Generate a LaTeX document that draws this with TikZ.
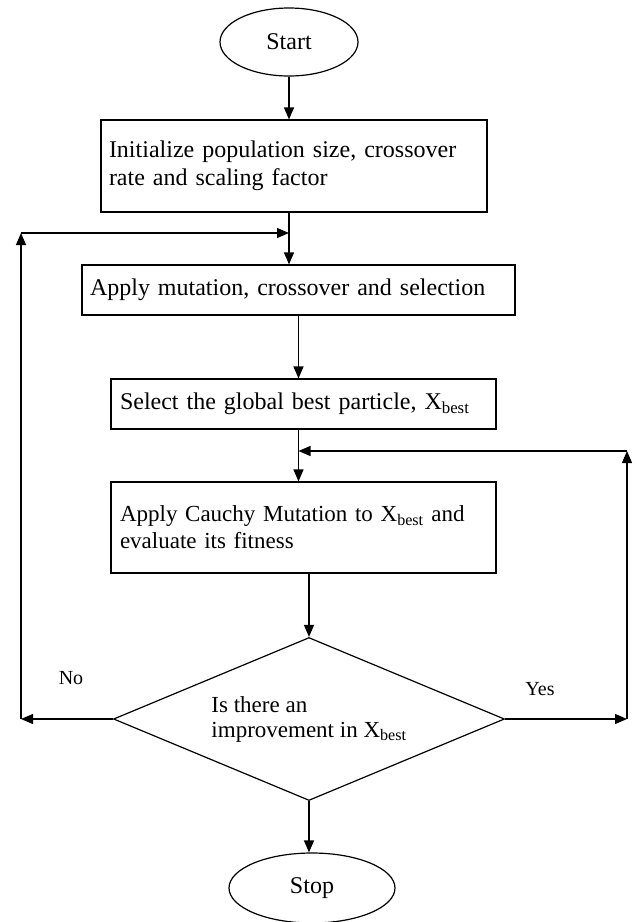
\documentclass[tikz,border=0pt]{standalone}
\usepackage{fontspec}
\setmainfont{Liberation Serif}
\usetikzlibrary{shapes, positioning, arrows.meta, calc}

\tikzset{
  flow/.style={-{Triangle[length=12pt,width=10pt]}},
  procbox/.style={draw, rectangle, align=left, inner xsep=8pt, inner ysep=4pt,
    font=\fontsize{24}{28}\selectfont},
  terminal/.style={draw, ellipse, font=\fontsize{24}{28}\selectfont},
  branch/.style={font=\fontsize{20}{24}\selectfont}
}

\begin{document}
\begin{tikzpicture}[x=1pt, y=-1pt, line width=1.2pt]
      \useasboundingbox (0,0) rectangle (637,922);
      \node[
      terminal,
      minimum width=138pt,
      minimum height=68pt
      ] (start) at (289,42) {Start};
      \node[
      procbox,
      text width=370pt,
      minimum height=92pt
      ] (init) at (294,166) {Initialize population size, crossover\\rate and scaling factor};
      \node[
      procbox,
      text width=417pt,
      minimum height=50pt
      ] (apply) at (298.5,290) {Apply mutation, crossover and selection};
      \node[
      procbox,
      inner xsep=9pt,
      text width=367pt,
      minimum height=50pt
      ] (select) at (303.5,404) {Select the global best particle, X\textsubscript{best}};
      \node[
      procbox,
      inner xsep=9pt,
      text width=367pt,
      minimum height=91pt,
      font=\fontsize{23}{27}\selectfont
      ] (cauchy) at (303.5,527.5) {Apply Cauchy Mutation to X\textsubscript{best} and\\evaluate its fitness};
      \node[
      draw,
      diamond,
      aspect=2.4,
      inner sep=2pt,
      minimum width=391pt,
      minimum height=163pt,
      align=left,
      font=\fontsize{23}{25}\selectfont
      ] (improve) at (309,719) {Is there an\\improvement in X\textsubscript{best}};
      \node[
      terminal,
      minimum width=166pt,
      minimum height=70pt
      ] (stop) at (312,888) {Stop};
      \node[branch] (nolabel) at (71,678) {No};
      \node[branch] (yeslabel) at (540,689) {Yes};
      \coordinate (nocorner) at (21,719);
      \coordinate (noend) at (21,233);
      \coordinate (yescorner) at (627,719);
      \coordinate (yesend) at (627,451);
      \draw[flow] (start.south) -- (init.north -| start.south);
      \draw[flow] (init.south -| start.south) -- (apply.north -| start.south);
      \draw[flow] (apply.south) -- (select.north -| apply.south);
      \draw[flow] (select.south -| apply.south) -- (cauchy.north -| apply.south);
      \draw[flow] (cauchy.south -| improve.north) -- (improve.north);
      \draw[flow] (improve.south) -- (stop.north -| improve.south);
      \draw[flow] (improve.west) -- (nocorner);
      \draw[flow] (nocorner) -- (noend);
      \draw[flow] (noend) -- (noend -| start.south);
      \draw[flow] (improve.east) -- (yescorner);
      \draw[flow] (yescorner) -- (yesend);
      \draw[flow] (yesend) -- (yesend -| apply.south);
    \end{tikzpicture}
\end{document}
